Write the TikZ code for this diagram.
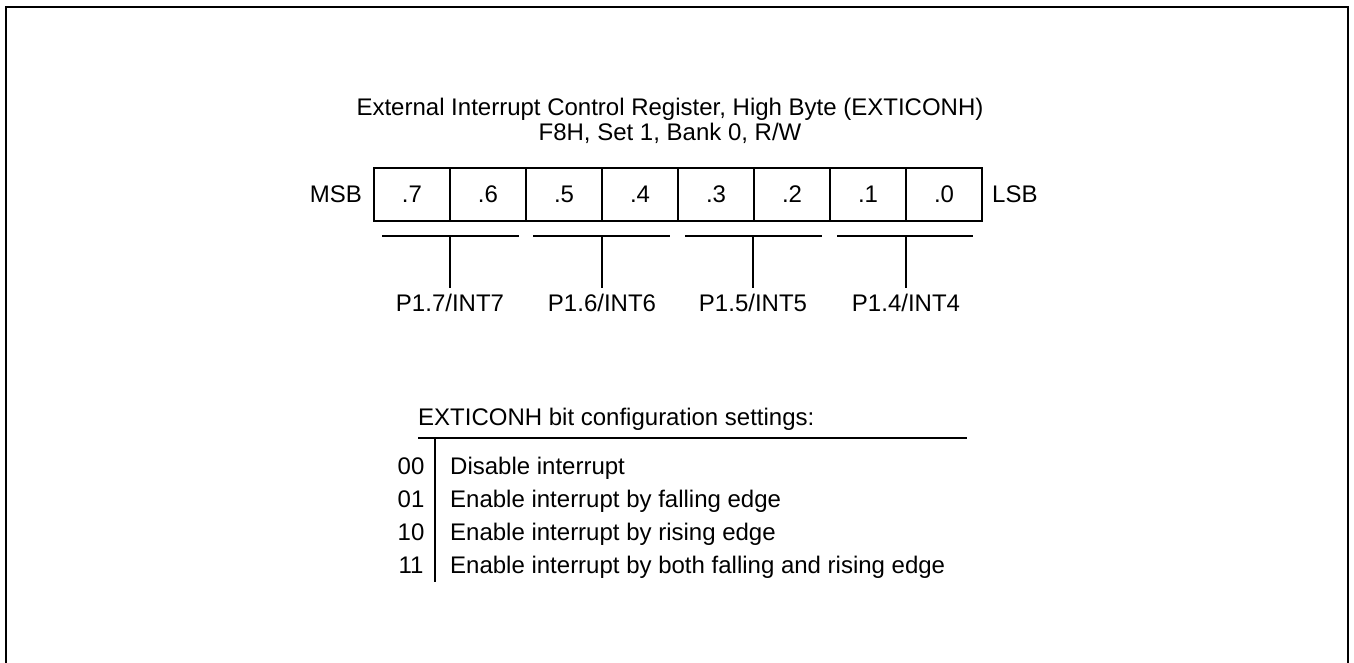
\documentclass[tikz,border=0pt]{standalone}
\usepackage{fontspec}
\setmainfont{Liberation Sans}
\begin{document}
\begin{tikzpicture}[x=1pt,y=-1pt,
  txt/.style={font=\fontsize{24}{25.5}\selectfont, inner sep=0pt},
  cell/.style={draw, line width=1.3pt, minimum width=76pt, minimum height=53pt, inner sep=0pt, font=\fontsize{24}{25.5}\selectfont},
  rule/.style={line width=1.2pt},
  frame/.style={line width=2.6pt}]
\useasboundingbox (0,0) rectangle (1354,663);
% outer frame (bottom edge lies outside the picture)
\coordinate (f1) at (6,663);
\coordinate (f2) at (6,7);
\coordinate (f3) at (1348,7);
\coordinate (f4) at (1348,663);
\draw[frame] (f1) -- (f2) -- (f3) -- (f4);
% title
\node[txt, align=center] (title) at (670,121) {External Interrupt Control Register, High Byte (EXTICONH)\\F8H, Set 1, Bank 0, R/W};
% register cells
\node[cell] (c7) at (412,194.5) {.7};
\node[cell] (c6) at (488,194.5) {.6};
\node[cell] (c5) at (564,194.5) {.5};
\node[cell] (c4) at (640,194.5) {.4};
\node[cell] (c3) at (716,194.5) {.3};
\node[cell] (c2) at (792,194.5) {.2};
\node[cell] (c1) at (868,194.5) {.1};
\node[cell] (c0) at (944,194.5) {.0};
\node[txt, anchor=east] (msb) at (362,194.5) {MSB};
\node[txt, anchor=west] (lsb) at (992,194.5) {LSB};
% brackets
\coordinate (a7) at (382,236); \coordinate (e7) at (519,236); \coordinate (m7) at (450,236);
\coordinate (a6) at (533,236); \coordinate (e6) at (670,236); \coordinate (m6) at (602,236);
\coordinate (a5) at (685,236); \coordinate (e5) at (822,236); \coordinate (m5) at (753,236);
\coordinate (a4) at (837,236); \coordinate (e4) at (973,236); \coordinate (m4) at (906,236);
\node[txt, anchor=base] (p7) at (450,311) {P1.7/INT7};
\node[txt, anchor=base] (p6) at (602,311) {P1.6/INT6};
\node[txt, anchor=base] (p5) at (753,311) {P1.5/INT5};
\node[txt, anchor=base] (p4) at (906,311) {P1.4/INT4};
\coordinate (t7) at (450,288); \coordinate (t6) at (602,288);
\coordinate (t5) at (753,288); \coordinate (t4) at (906,288);
\foreach \i in {7,6,5,4} {
  \draw[rule] (a\i) -- (e\i);
  \draw[rule] (m\i) -- (t\i);
}
% settings table
\node[txt, anchor=base west] (hdr) at (418,425) {EXTICONH bit configuration settings:};
\coordinate (h1) at (418,438);
\coordinate (h2) at (967,438);
\draw[rule] (h1) -- (h2);
\coordinate (v1) at (435,438);
\coordinate (v2) at (435,582);
\draw[rule] (v1) -- (v2);
\node[txt, anchor=base] (k0) at (411,474) {00};
\node[txt, anchor=base] (k1) at (411,507) {01};
\node[txt, anchor=base] (k2) at (411,540) {10};
\node[txt, anchor=base] (k3) at (411,573) {11};
\node[txt, anchor=base west] (d0) at (450,474) {Disable interrupt};
\node[txt, anchor=base west] (d1) at (450,507) {Enable interrupt by falling edge};
\node[txt, anchor=base west] (d2) at (450,540) {Enable interrupt by rising edge};
\node[txt, anchor=base west] (d3) at (450,573) {Enable interrupt by both falling and rising edge};
\end{tikzpicture}
\end{document}
